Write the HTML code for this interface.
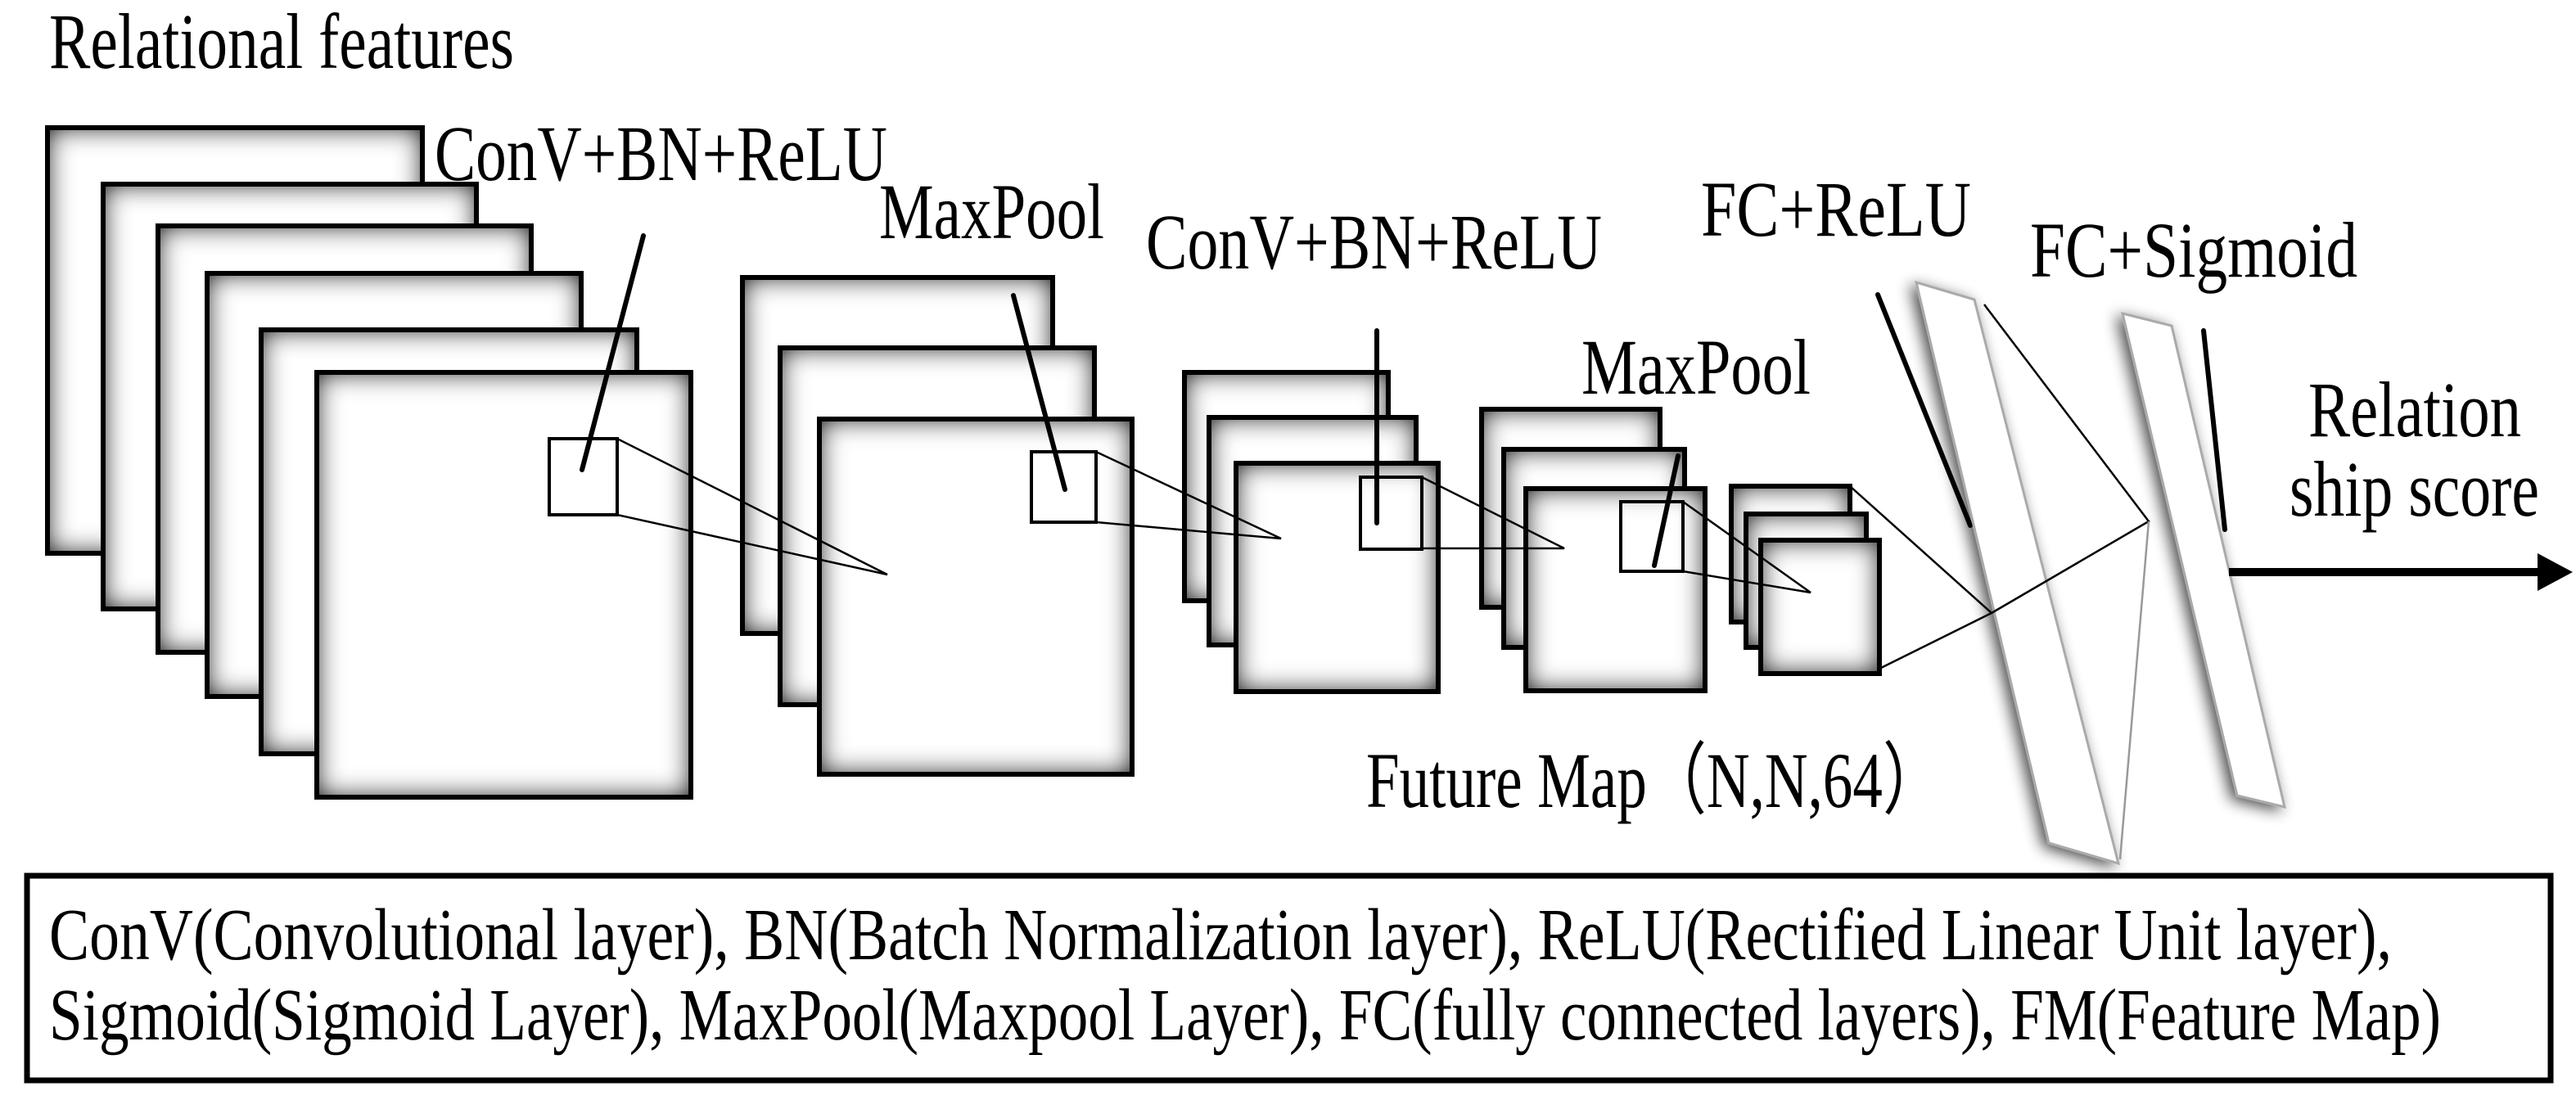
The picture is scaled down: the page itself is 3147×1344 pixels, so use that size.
<!DOCTYPE html>
<html><head><meta charset="utf-8"><style>html,body{margin:0;padding:0;background:#fff}svg{display:block}</style></head>
<body>
<svg width="3147" height="1344" viewBox="0 0 3147 1344" xmlns="http://www.w3.org/2000/svg" font-family="'Liberation Serif', serif">
<defs>
<filter id="ins" x="-20%" y="-20%" width="140%" height="140%">
<feFlood flood-color="#000"/>
<feComposite in2="SourceAlpha" operator="out"/>
<feGaussianBlur stdDeviation="16"/>
<feComposite in2="SourceAlpha" operator="in" result="sh"/>
<feMerge><feMergeNode in="SourceGraphic"/><feMergeNode in="sh"/><feMergeNode in="sh"/></feMerge>
</filter>
<filter id="ds" x="-50%" y="-20%" width="200%" height="140%">
<feGaussianBlur in="SourceAlpha" stdDeviation="9"/>
<feOffset dx="-6" dy="4"/>
<feComponentTransfer><feFuncA type="linear" slope="0.7"/></feComponentTransfer>
<feMerge><feMergeNode/><feMergeNode in="SourceGraphic"/></feMerge>
</filter>
</defs>
<g id="boxes" stroke="#000" stroke-width="6">
<g><rect x="58" y="156" width="458" height="520" fill="#fff" filter="url(#ins)" stroke="none"/><rect x="58" y="156" width="458" height="520" fill="none"/></g>
<g><rect x="126" y="225" width="456" height="519" fill="#fff" filter="url(#ins)" stroke="none"/><rect x="126" y="225" width="456" height="519" fill="none"/></g>
<g><rect x="193" y="276" width="456" height="521" fill="#fff" filter="url(#ins)" stroke="none"/><rect x="193" y="276" width="456" height="521" fill="none"/></g>
<g><rect x="253" y="334" width="457" height="517" fill="#fff" filter="url(#ins)" stroke="none"/><rect x="253" y="334" width="457" height="517" fill="none"/></g>
<g><rect x="319" y="403" width="459" height="518" fill="#fff" filter="url(#ins)" stroke="none"/><rect x="319" y="403" width="459" height="518" fill="none"/></g>
<g><rect x="387" y="455" width="457" height="519" fill="#fff" filter="url(#ins)" stroke="none"/><rect x="387" y="455" width="457" height="519" fill="none"/></g>
<g><rect x="907" y="339" width="379" height="435" fill="#fff" filter="url(#ins)" stroke="none"/><rect x="907" y="339" width="379" height="435" fill="none"/></g>
<g><rect x="953" y="425" width="384" height="436" fill="#fff" filter="url(#ins)" stroke="none"/><rect x="953" y="425" width="384" height="436" fill="none"/></g>
<g><rect x="1001" y="512" width="382" height="434" fill="#fff" filter="url(#ins)" stroke="none"/><rect x="1001" y="512" width="382" height="434" fill="none"/></g>
<g><rect x="1447" y="455" width="249" height="279" fill="#fff" filter="url(#ins)" stroke="none"/><rect x="1447" y="455" width="249" height="279" fill="none"/></g>
<g><rect x="1477" y="510" width="253" height="278" fill="#fff" filter="url(#ins)" stroke="none"/><rect x="1477" y="510" width="253" height="278" fill="none"/></g>
<g><rect x="1510" y="566" width="247" height="279" fill="#fff" filter="url(#ins)" stroke="none"/><rect x="1510" y="566" width="247" height="279" fill="none"/></g>
<g><rect x="1810" y="500" width="218" height="242" fill="#fff" filter="url(#ins)" stroke="none"/><rect x="1810" y="500" width="218" height="242" fill="none"/></g>
<g><rect x="1837" y="549" width="221" height="242" fill="#fff" filter="url(#ins)" stroke="none"/><rect x="1837" y="549" width="221" height="242" fill="none"/></g>
<g><rect x="1864" y="597" width="219" height="247" fill="#fff" filter="url(#ins)" stroke="none"/><rect x="1864" y="597" width="219" height="247" fill="none"/></g>
<g><rect x="2115" y="594" width="145" height="166" fill="#fff" filter="url(#ins)" stroke="none"/><rect x="2115" y="594" width="145" height="166" fill="none"/></g>
<g><rect x="2133" y="628" width="147" height="163" fill="#fff" filter="url(#ins)" stroke="none"/><rect x="2133" y="628" width="147" height="163" fill="none"/></g>
<g><rect x="2151" y="660" width="145" height="163" fill="#fff" filter="url(#ins)" stroke="none"/><rect x="2151" y="660" width="145" height="163" fill="none"/></g>
</g>
<g fill="none" stroke="#000" stroke-width="4">
<rect x="671" y="536" width="83" height="93"/>
<rect x="1260" y="552" width="79" height="86"/>
<rect x="1662" y="583" width="75" height="88"/>
<rect x="1980" y="613" width="76" height="85"/>
</g>
<g fill="none" stroke="#000" stroke-width="2.5">
<polyline points="754,536 1084,702 754,629"/>
<polyline points="1339,552 1565,658 1339,638"/>
<polyline points="1737,583 1911,670 1737,670"/>
<polyline points="2056,613 2212,724 2056,698"/>
<polyline points="2260,594 2433,749 2296,817"/>
</g>
<g stroke="#000" stroke-width="6" stroke-linecap="round">
<line x1="786" y1="288" x2="711" y2="574"/>
<line x1="1238" y1="361" x2="1301" y2="598"/>
<line x1="1682" y1="404" x2="1682" y2="639"/>
<line x1="2050" y1="557" x2="2021" y2="691"/>
<line x1="2294" y1="360" x2="2407" y2="642"/>
<line x1="2692" y1="404" x2="2718" y2="647"/>
</g>
<g fill="#fff" stroke="#aaa" stroke-width="3" filter="url(#ds)">
<polygon points="2341,345 2412,366 2588,1055 2503,1030"/>
<polygon points="2593,383 2653,398 2791,986 2733,972"/>
</g>
<polyline points="2424,372 2625,637 2433,749" fill="none" stroke="#000" stroke-width="2.5"/>
<line x1="2625" y1="637" x2="2590" y2="1050" stroke="#999" stroke-width="2.5"/>
<line x1="2723" y1="699" x2="3105" y2="699" stroke="#000" stroke-width="10"/>
<polygon points="3100,676 3143,699 3100,722" fill="#000"/>
<g font-size="96" fill="#000">
<text x="60" y="83" textLength="568" lengthAdjust="spacingAndGlyphs">Relational features</text>
<text x="531" y="220" textLength="553" lengthAdjust="spacingAndGlyphs">ConV+BN+ReLU</text>
<text x="1074" y="291" textLength="275" lengthAdjust="spacingAndGlyphs">MaxPool</text>
<text x="1400" y="328" textLength="557" lengthAdjust="spacingAndGlyphs">ConV+BN+ReLU</text>
<text x="1932" y="481" textLength="280" lengthAdjust="spacingAndGlyphs">MaxPool</text>
<text x="2078" y="288" textLength="330" lengthAdjust="spacingAndGlyphs">FC+ReLU</text>
<text x="2480" y="338" textLength="400" lengthAdjust="spacingAndGlyphs">FC+Sigmoid</text>
<text x="2820" y="533" textLength="260" lengthAdjust="spacingAndGlyphs">Relation</text>
<text x="2797" y="630" textLength="305" lengthAdjust="spacingAndGlyphs">ship score</text>
<text x="1669" y="986" textLength="704" lengthAdjust="spacingAndGlyphs">Future Map（N,N,64）</text>
</g>
<rect x="33" y="1070" width="3083" height="250" fill="none" stroke="#000" stroke-width="7"/>
<g font-size="90" fill="#000">
<text x="60" y="1172" textLength="2862" lengthAdjust="spacingAndGlyphs">ConV(Convolutional layer),  BN(Batch Normalization layer),  ReLU(Rectified Linear Unit layer),</text>
<text x="60" y="1270" textLength="2922" lengthAdjust="spacingAndGlyphs">Sigmoid(Sigmoid Layer),  MaxPool(Maxpool Layer), FC(fully connected layers), FM(Feature Map)</text>
</g>
</svg>
</body></html>
